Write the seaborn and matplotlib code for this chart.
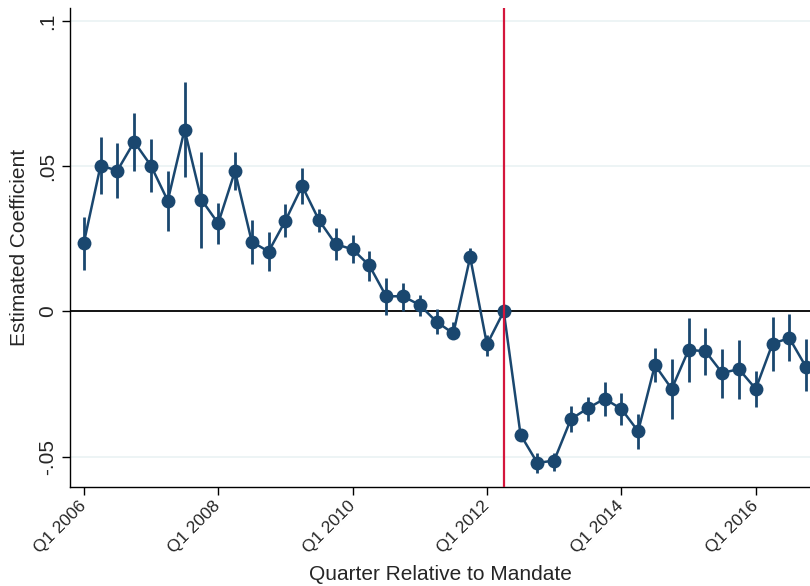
import matplotlib
matplotlib.use("Agg")
import matplotlib.pyplot as plt
import seaborn as sns
import pandas as pd
import numpy as np

# quarters Q1 2006 .. Q4 2016 (index 0..43)
quarter = list(range(44))
coef = [0.0235, 0.0502, 0.0485, 0.0584, 0.0502, 0.0381, 0.0626, 0.0385, 0.0303, 0.0483,
        0.0240, 0.0206, 0.0312, 0.0432, 0.0314, 0.0231, 0.0214, 0.0158, 0.0052, 0.0052,
        0.0022, -0.0036, -0.0076, 0.0187, -0.0114, 0.0, -0.0425, -0.0522, -0.0514, -0.0371,
        -0.0334, -0.0301, -0.0336, -0.0413, -0.0185, -0.0267, -0.0133, -0.0137, -0.0212, -0.0199,
        -0.0267, -0.0111, -0.0092, -0.0192]
ci_hi = [0.0326, 0.0599, 0.0579, 0.0685, 0.0593, 0.0484, 0.0789, 0.0549, 0.0375, 0.0549,
         0.0315, 0.0272, 0.0369, 0.0494, 0.0352, 0.0286, 0.0263, 0.0209, 0.0115, 0.0097,
         0.0056, 0.0008, -0.0036, 0.0218, -0.0080, 0.0, -0.0410, -0.0488, -0.0488, -0.0327,
         -0.0296, -0.0244, -0.0282, -0.0353, -0.0127, -0.0164, -0.0023, -0.0059, -0.0130, -0.0099,
         -0.0204, -0.0021, -0.0009, -0.0095]
ci_lo = [0.0142, 0.0406, 0.0390, 0.0484, 0.0412, 0.0277, 0.0463, 0.0220, 0.0231, 0.0417,
         0.0164, 0.0140, 0.0255, 0.0369, 0.0274, 0.0177, 0.0165, 0.0105, -0.0013, 0.0002,
         -0.0015, -0.0078, -0.0092, 0.0169, -0.0155, 0.0, -0.0445, -0.0556, -0.0549, -0.0414,
         -0.0376, -0.0359, -0.0391, -0.0474, -0.0244, -0.0371, -0.0244, -0.0218, -0.0298, -0.0302,
         -0.0330, -0.0204, -0.0172, -0.0273]
tick_pos = [0, 8, 16, 24, 32, 40]
tick_labels = ["Q1 2006", "Q1 2008", "Q1 2010", "Q1 2012", "Q1 2014", "Q1 2016"]
mandate = 25

df = pd.DataFrame({"quarter": quarter, "coef": coef, "lo": ci_lo, "hi": ci_hi})

sns.set_style("white")
plt.rcParams["font.family"] = ["Liberation Sans", "DejaVu Sans"]
navy = "#1a476f"

fig = plt.figure(figsize=(8.1, 5.86), dpi=100)
ax = fig.add_axes([70 / 810, (586 - 487) / 586, 740 / 810, (487 - 8) / 586])

for y in [-0.05, 0.05, 0.1]:
    ax.axhline(y, color="#eaf2f3", lw=1.2, zorder=0)
ax.axhline(0, color="black", lw=1.3, zorder=1)
ax.vlines(df["quarter"], df["lo"], df["hi"], color=navy, lw=2, zorder=2)
sns.lineplot(data=df, x="quarter", y="coef", ax=ax, color=navy, lw=1.8,
             marker="o", markersize=10, markeredgewidth=0, zorder=3)
ax.axvline(mandate, color="#d4163c", lw=1.6, zorder=4)

ax.set_xlim(-0.82, 43.23)
ax.set_ylim(-0.0605, 0.1045)
ax.set_xticks(tick_pos)
ax.set_xticklabels(tick_labels, rotation=45, ha="right", va="center",
                   rotation_mode="anchor", fontsize=12.5)
ax.set_yticks([-0.05, 0, 0.05, 0.1])
ax.set_yticklabels(["-.05", "0", ".05", ".1"], rotation=90, va="center", fontsize=15)
ax.tick_params(axis="both", direction="out", length=6, width=1, color="black", bottom=True, left=True)
ax.tick_params(axis="x", pad=6)
ax.set_xlabel("Quarter Relative to Mandate", fontsize=15, labelpad=6)
ax.set_ylabel("Estimated Coefficient", fontsize=15, labelpad=6)
for s in ["top", "right"]:
    ax.spines[s].set_visible(False)
for s in ["left", "bottom"]:
    ax.spines[s].set_color("black")
    ax.spines[s].set_linewidth(1)

fig.savefig("out.png", dpi=100)
